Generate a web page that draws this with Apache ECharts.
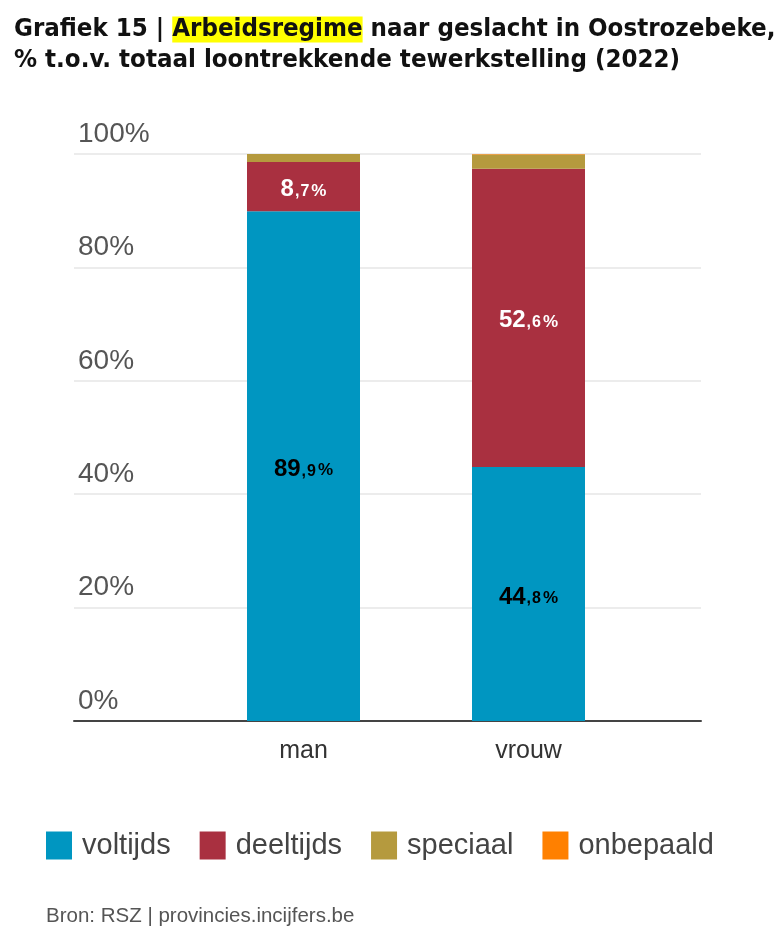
<!DOCTYPE html>
<html><head><meta charset="utf-8">
<script src="https://cdn.jsdelivr.net/npm/echarts@6/dist/echarts.min.js"></script>
<style>html,body{margin:0;padding:0;background:#fff}#c{width:781px;height:929px}</style>
</head><body><div id="c"></div>
<script>
const categories = ['man', 'vrouw'];
const seriesNames = ['voltijds', 'deeltijds', 'speciaal', 'onbepaald'];
const voltijds = [89.9, 44.8];
const deeltijds = [8.7, 52.6];
const speciaal = [1.4, 2.5];
const onbepaald = [0.0, 0.1];
const yTicks = [0, 20, 40, 60, 80, 100];
const colors = ['#0096c1', '#a93040', '#b59a3e', '#ff8000'];

function fmtLabel(p) {
  const s = p.value.toFixed(1).split('.');
  return '{a|' + s[0] + '}{b|,}{d|' + s[1] + '}{c|%}';
}
function labelCfg(color, show) {
  const base = {fontFamily: 'Liberation Sans', fontWeight: 'bold', color: color, verticalAlign: 'bottom', lineHeight: 30};
  return {
    show: show, position: 'inside', formatter: fmtLabel,
    rich: {
      a: Object.assign({}, base, {fontSize: 24}),
      b: Object.assign({}, base, {fontSize: 16, padding: [0, 1, 2, 1]}),
      d: Object.assign({}, base, {fontSize: 16, padding: [0, 1, 2, 0]}),
      c: Object.assign({}, base, {fontSize: 17, padding: [0, 0, 2, 1]})
    }
  };
}
const data = [voltijds, deeltijds, speciaal, onbepaald];
const series = seriesNames.map((n, i) => ({
  name: n, type: 'bar', stack: 'total', xAxisIndex: 1, yAxisIndex: 1,
  barWidth: 113, data: data[i],
  itemStyle: {color: colors[i]},
  label: labelCfg(i === 0 ? '#000' : '#fff', i < 2),
  emphasis: {disabled: true}
}));

const chart = echarts.init(document.getElementById('c'), null, {renderer: 'canvas'});
chart.setOption({
  animation: false,
  title: {
    left: 14, top: 14, padding: 0,
    text: '{t|Grafiek 15 | }{h|Arbeidsregime}{t| naar geslacht in Oostrozebeke,}\n{t|% t.o.v. totaal loontrekkende tewerkstelling (2022)}',
    textStyle: {
      rich: {
        t: {fontFamily: 'DejaVu Sans Condensed', fontWeight: 'bold', fontSize: 25.6, color: '#111', lineHeight: 31},
        h: {fontFamily: 'DejaVu Sans Condensed', fontWeight: 'bold', fontSize: 25.6, color: '#111', lineHeight: 31, backgroundColor: '#ffff00'}
      }
    }
  },
  legend: {
    left: 41, top: 826, itemWidth: 26, itemHeight: 28, itemGap: 29,
    icon: 'rect', data: seriesNames,
    textStyle: {fontFamily: 'Liberation Sans', fontSize: 29, color: '#444', padding: [0, 0, 0, 5]}
  },
  graphic: [{
    type: 'text', left: 46, top: 906,
    style: {text: 'Bron: RSZ | provincies.incijfers.be', font: '20.5px "Liberation Sans"', fill: '#555'}
  }],
  grid: [
    {left: 74, width: 627, top: 154, height: 567},
    {left: 191, width: 450, top: 154, height: 567}
  ],
  xAxis: [
    {gridIndex: 0, type: 'category', data: [''], axisTick: {show: false}, axisLabel: {show: false},
     axisLine: {lineStyle: {color: '#444', width: 2}}},
    {gridIndex: 1, type: 'category', data: categories, axisTick: {show: false}, axisLine: {show: false},
     axisLabel: {margin: 18, fontFamily: 'Liberation Sans', fontSize: 25, color: '#333'}}
  ],
  yAxis: [
    {gridIndex: 0, type: 'value', min: 0, max: 100, interval: 20,
     axisLine: {show: false}, axisTick: {show: false},
     splitLine: {lineStyle: {color: '#e6e6e6', width: 1.5}},
     axisLabel: {inside: true, margin: 4, align: 'left', verticalAlign: 'bottom', padding: [0, 0, 6, 0],
       fontFamily: 'Liberation Sans', fontSize: 28, color: '#555', formatter: '{value}%'}},
    {gridIndex: 1, type: 'value', min: 0, max: 100, interval: 20, show: false, splitLine: {show: false}}
  ],
  series: series
});
</script></body></html>
